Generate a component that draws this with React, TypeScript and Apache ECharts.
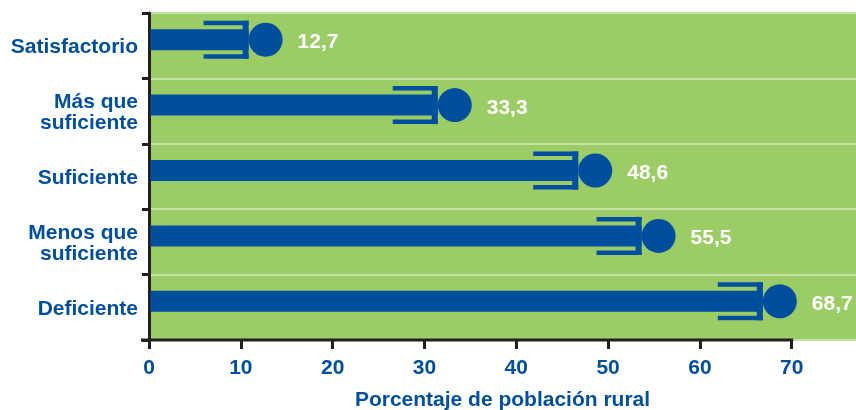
import React, { useEffect, useRef } from "react";
import * as echarts from "echarts";

const categories = [
  "Satisfactorio",
  "Más que\nsuficiente",
  "Suficiente",
  "Menos que\nsuficiente",
  "Deficiente",
];
const values = [12.7, 33.3, 48.6, 55.5, 68.7];
const xTicks = [0, 10, 20, 30, 40, 50, 60, 70];
const xMax = 77;
const axisLineEnd = 70;
const axisName = "Porcentaje de población rural";

const BLUE = "#004f9f";
const GREEN = "#9ccc65";
const DARK = "#231f20";
const FONT = "'Liberation Sans', Arial, sans-serif";

export default function App() {
  const ref = useRef<HTMLDivElement>(null);
  useEffect(() => {
    if (!ref.current) return;
    const chart = echarts.init(ref.current, null, { renderer: "svg" });
    const fmt = (v: number) => v.toFixed(1).replace(".", ",");
    chart.setOption({
      animation: false,
      grid: {
        left: 149,
        right: 0,
        top: 13,
        bottom: 70,
        show: true,
        backgroundColor: GREEN,
        borderWidth: 0,
        containLabel: false,
        outerBoundsMode: "none",
      },
      xAxis: {
        type: "value",
        min: 0,
        max: xMax,
        interval: 10,
        axisLine: { show: false },
        axisTick: {
          show: true,
          length: 9,
          lineStyle: { color: DARK, width: 3 },
        },
        splitLine: { show: false },
        axisLabel: {
          showMaxLabel: false,
          margin: 16,
          color: BLUE,
          fontSize: 21,
          fontWeight: "bold",
          fontFamily: FONT,
          formatter: (v: number) => (xTicks.includes(v) ? String(v) : ""),
        },
        name: axisName,
        nameLocation: "middle",
        nameGap: 48,
        nameTextStyle: {
          color: BLUE,
          fontSize: 21,
          fontWeight: "bold",
          fontFamily: FONT,
        },
      },
      yAxis: {
        type: "category",
        data: categories,
        inverse: true,
        axisLine: { show: true, lineStyle: { color: DARK, width: 3 } },
        axisTick: {
          show: true,
          length: 7,
          lineStyle: { color: DARK, width: 3 },
        },
        splitLine: {
          show: true,
          lineStyle: { color: "#c6e3a6", width: 2 },
        },
        axisLabel: {
          margin: 11,
          color: BLUE,
          fontSize: 21,
          fontWeight: "bold",
          fontFamily: FONT,
          lineHeight: 21,
          align: "right",
        },
      },
      series: [
        {
          type: "custom",
          data: values.map((v, i) => [v, i]),
          encode: { x: 0, y: 1 },
          z: 3,
          renderItem: (params: any, api: any) => {
            const v = api.value(0);
            const c = api.coord([v, api.value(1)]);
            const cx = c[0];
            const cy = c[1] - 6;
            const x0 = params.coordSys.x + 1.5;
            const r = 17;
            const fill = { fill: BLUE };
            return {
              type: "group",
              children: [
                {
                  type: "rect",
                  shape: { x: x0, y: cy - 10.5, width: cx - r - x0, height: 21 },
                  style: fill,
                },
                {
                  type: "rect",
                  shape: { x: cx - r - 6, y: cy - 19, width: 6, height: 38 },
                  style: fill,
                },
                {
                  type: "rect",
                  shape: { x: cx - r - 45, y: cy - 19, width: 45, height: 4.5 },
                  style: fill,
                },
                {
                  type: "rect",
                  shape: { x: cx - r - 45, y: cy + 14.5, width: 45, height: 4.5 },
                  style: fill,
                },
                {
                  type: "circle",
                  shape: { cx: cx, cy: cy, r: r },
                  style: fill,
                },
                {
                  type: "text",
                  x: cx + 32,
                  y: cy + 1,
                  style: {
                    text: fmt(v),
                    fill: "#ffffff",
                    font: `bold 21px ${FONT}`,
                    verticalAlign: "middle",
                    align: "left",
                  },
                },
              ],
            };
          },
        },
        {
          type: "custom",
          data: [[0, 0]],
          encode: { x: 0, y: 1 },
          z: 4,
          silent: true,
          renderItem: (params: any, api: any) => {
            const cs = params.coordSys;
            const yb = cs.y + cs.height;
            const xe = api.coord([axisLineEnd, 0])[0];
            return {
              type: "line",
              shape: { x1: cs.x - 8, y1: yb, x2: xe + 1.5, y2: yb },
              style: { stroke: DARK, lineWidth: 3 },
            };
          },
        },
      ],
    });
    return () => chart.dispose();
  }, []);
  return (
    <div
      ref={ref}
      style={{ position: "fixed", left: 0, top: 0, width: 856, height: 410 }}
    />
  );
}
